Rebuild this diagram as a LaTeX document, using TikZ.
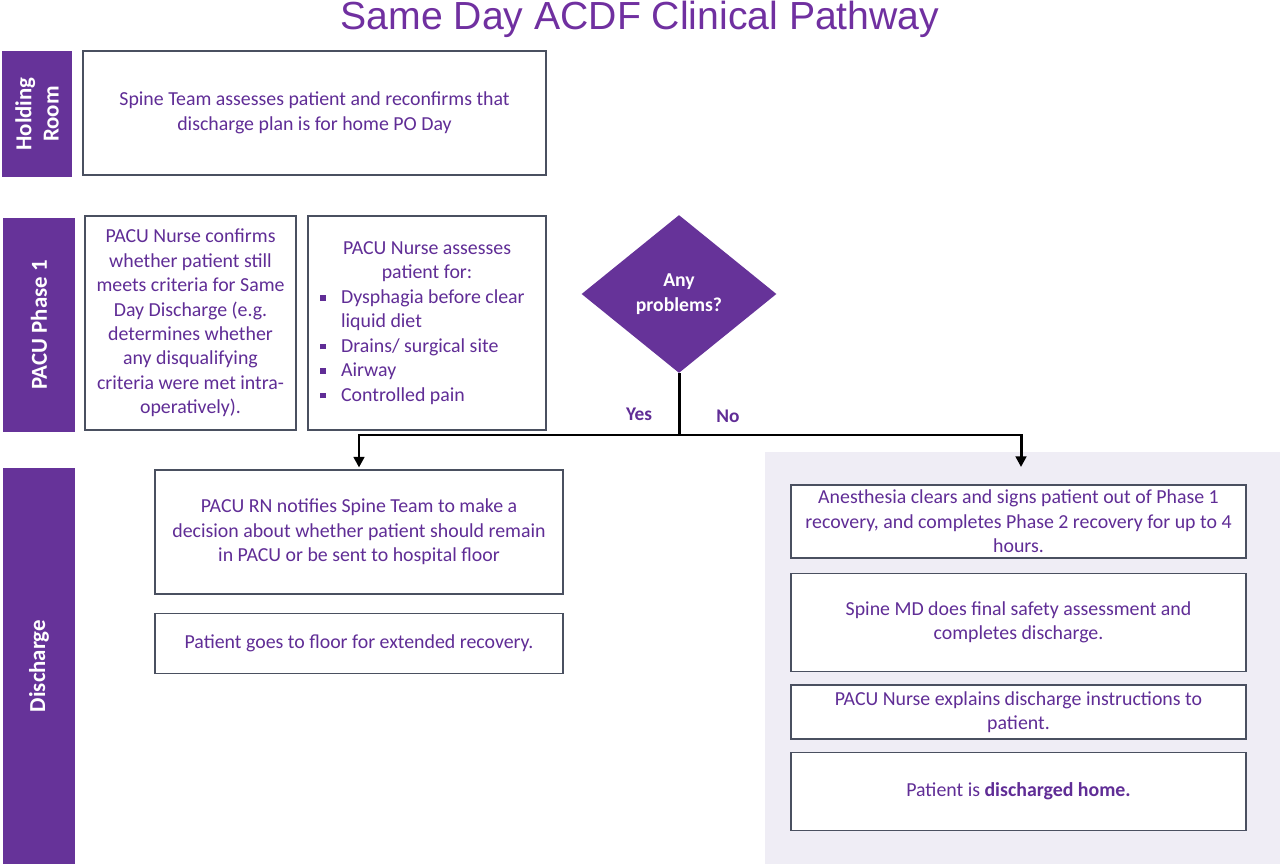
\documentclass[tikz,border=0pt]{standalone}
\usepackage{fontspec}
\setmainfont{Carlito}
\newfontfamily\titlefont{Liberation Sans}
\usetikzlibrary{shapes.geometric}
\usetikzlibrary{positioning}
\usetikzlibrary{arrows.meta}
\definecolor{pathpurple}{RGB}{102,51,153}
\definecolor{titlepurple}{RGB}{112,48,160}
\definecolor{textpurple}{RGB}{96,45,150}
\definecolor{boxline}{RGB}{74,80,96}
\definecolor{panelfill}{RGB}{239,237,245}
\providecommand\bline[1]{\makebox[4.28cm][l]{\raisebox{1.6pt}{\rule{3.2pt}{3.2pt}}\hspace{8.8pt}#1}}
\providecommand\bcont[1]{\makebox[4.28cm][l]{\hspace{12pt}#1}}

\begin{document}
\begin{tikzpicture}[x = 0.02cm, y = -0.02cm,
        stage/.style = {rectangle, fill = pathpurple, text = white, rotate = 90,
            align = center, inner sep = 0pt, font = \fontsize{13}{15.5}\selectfont\bfseries},
        stepbox/.style = {rectangle, draw = boxline, line width = 0.9pt, fill = white,
            text = textpurple, align = center, inner sep = 0pt,
            font = \fontsize{11.3}{13.9}\selectfont},
        flow/.style = {black, line width = 1.7pt},
        branch/.style = {text = textpurple, font = \fontsize{11}{13}\selectfont\bfseries},
        node distance = 0.24cm,
    ]
    \useasboundingbox (0,0) rectangle (1280,864);

    \node (title) at (640,19) [text = titlepurple, font = \titlefont\fontsize{22.3}{26}\selectfont] {Same Day ACDF Clinical Pathway};

    % stage bars on the left
    \node (holding) at (37,114) [stage, minimum width = 2.52cm, minimum height = 1.40cm] {Holding\\Room};
    \node (phase) at (39,325) [stage, minimum width = 4.28cm, minimum height = 1.44cm] {PACU Phase 1};
    \node (discharge) at (39,666) [stage, minimum width = 7.92cm, minimum height = 1.44cm] {Discharge};

    % holding room and phase 1
    \node (reconfirm) at (314.5,113) [stepbox, minimum width = 9.26cm, minimum height = 2.48cm]
        {Spine Team assesses patient and reconfirms that\\discharge plan is for home PO Day};
    \node (confirm) at (190.5,323) [stepbox, minimum width = 4.22cm, minimum height = 4.28cm]
        {PACU Nurse confirms\\whether patient still\\meets criteria for Same\\Day Discharge (e.g.\\determines whether\\any disqualifying\\criteria were met intra-\\operatively).};
    \node (assess) at (427,323) [stepbox, minimum width = 4.76cm, minimum height = 4.28cm]
        {PACU Nurse assesses\\patient for:\\\bline{Dysphagia before clear}\\\bcont{liquid diet}\\\bline{Drains/ surgical site}\\\bline{Airway}\\\bline{Controlled pain}};

    \node (decide) at (679,294) [diamond, fill = pathpurple, text = white, align = center, inner sep = 0pt,
        minimum width = 3.9cm, minimum height = 3.16cm, font = \fontsize{11.2}{13.9}\selectfont\bfseries] {Any\\problems?};

    % discharge, yes branch
    \node (notify) at (359,532) [stepbox, minimum width = 8.16cm, minimum height = 2.48cm]
        {PACU RN notifies Spine Team to make a\\decision about whether patient should remain\\in PACU or be sent to hospital floor};
    \node (floor) [stepbox, below = 0.36cm of notify, minimum width = 8.16cm, minimum height = 1.2cm]
        {Patient goes to floor for extended recovery.};

    % discharge, no branch
    \fill[panelfill] (765,452) rectangle (1280,864);

    \node (clear) at (1018.5,521.5) [stepbox, minimum width = 9.1cm, minimum height = 1.46cm]
        {Anesthesia clears and signs patient out of Phase 1\\recovery, and completes Phase 2 recovery for up to 4\\hours.};
    \node (safety) [stepbox, below = 0.28cm of clear, minimum width = 9.1cm, minimum height = 1.96cm]
        {Spine MD does final safety assessment and\\completes discharge.};
    \node (explain) [stepbox, below = of safety, minimum width = 9.1cm, minimum height = 1.08cm]
        {PACU Nurse explains discharge instructions to\\patient.};
    \node (home) [stepbox, below = of explain, minimum width = 9.1cm, minimum height = 1.56cm]
        {Patient is \textbf{discharged home.}};

    % connectors
    \coordinate (split) at (679,435);
    \coordinate (noend) at (1021,467);

    \draw[flow] (decide.south) -- (split);
    \draw[flow, -{Triangle[length=6pt, width=6pt]}, shorten >=1pt] (split) -| (notify.north);
    \draw[flow, -{Triangle[length=6pt, width=6pt]}] (split) -| (noend);

    \node (yes) at (639,414) [branch] {Yes};
    \node (no) at (728,416) [branch] {No};

\end{tikzpicture}
\end{document}
